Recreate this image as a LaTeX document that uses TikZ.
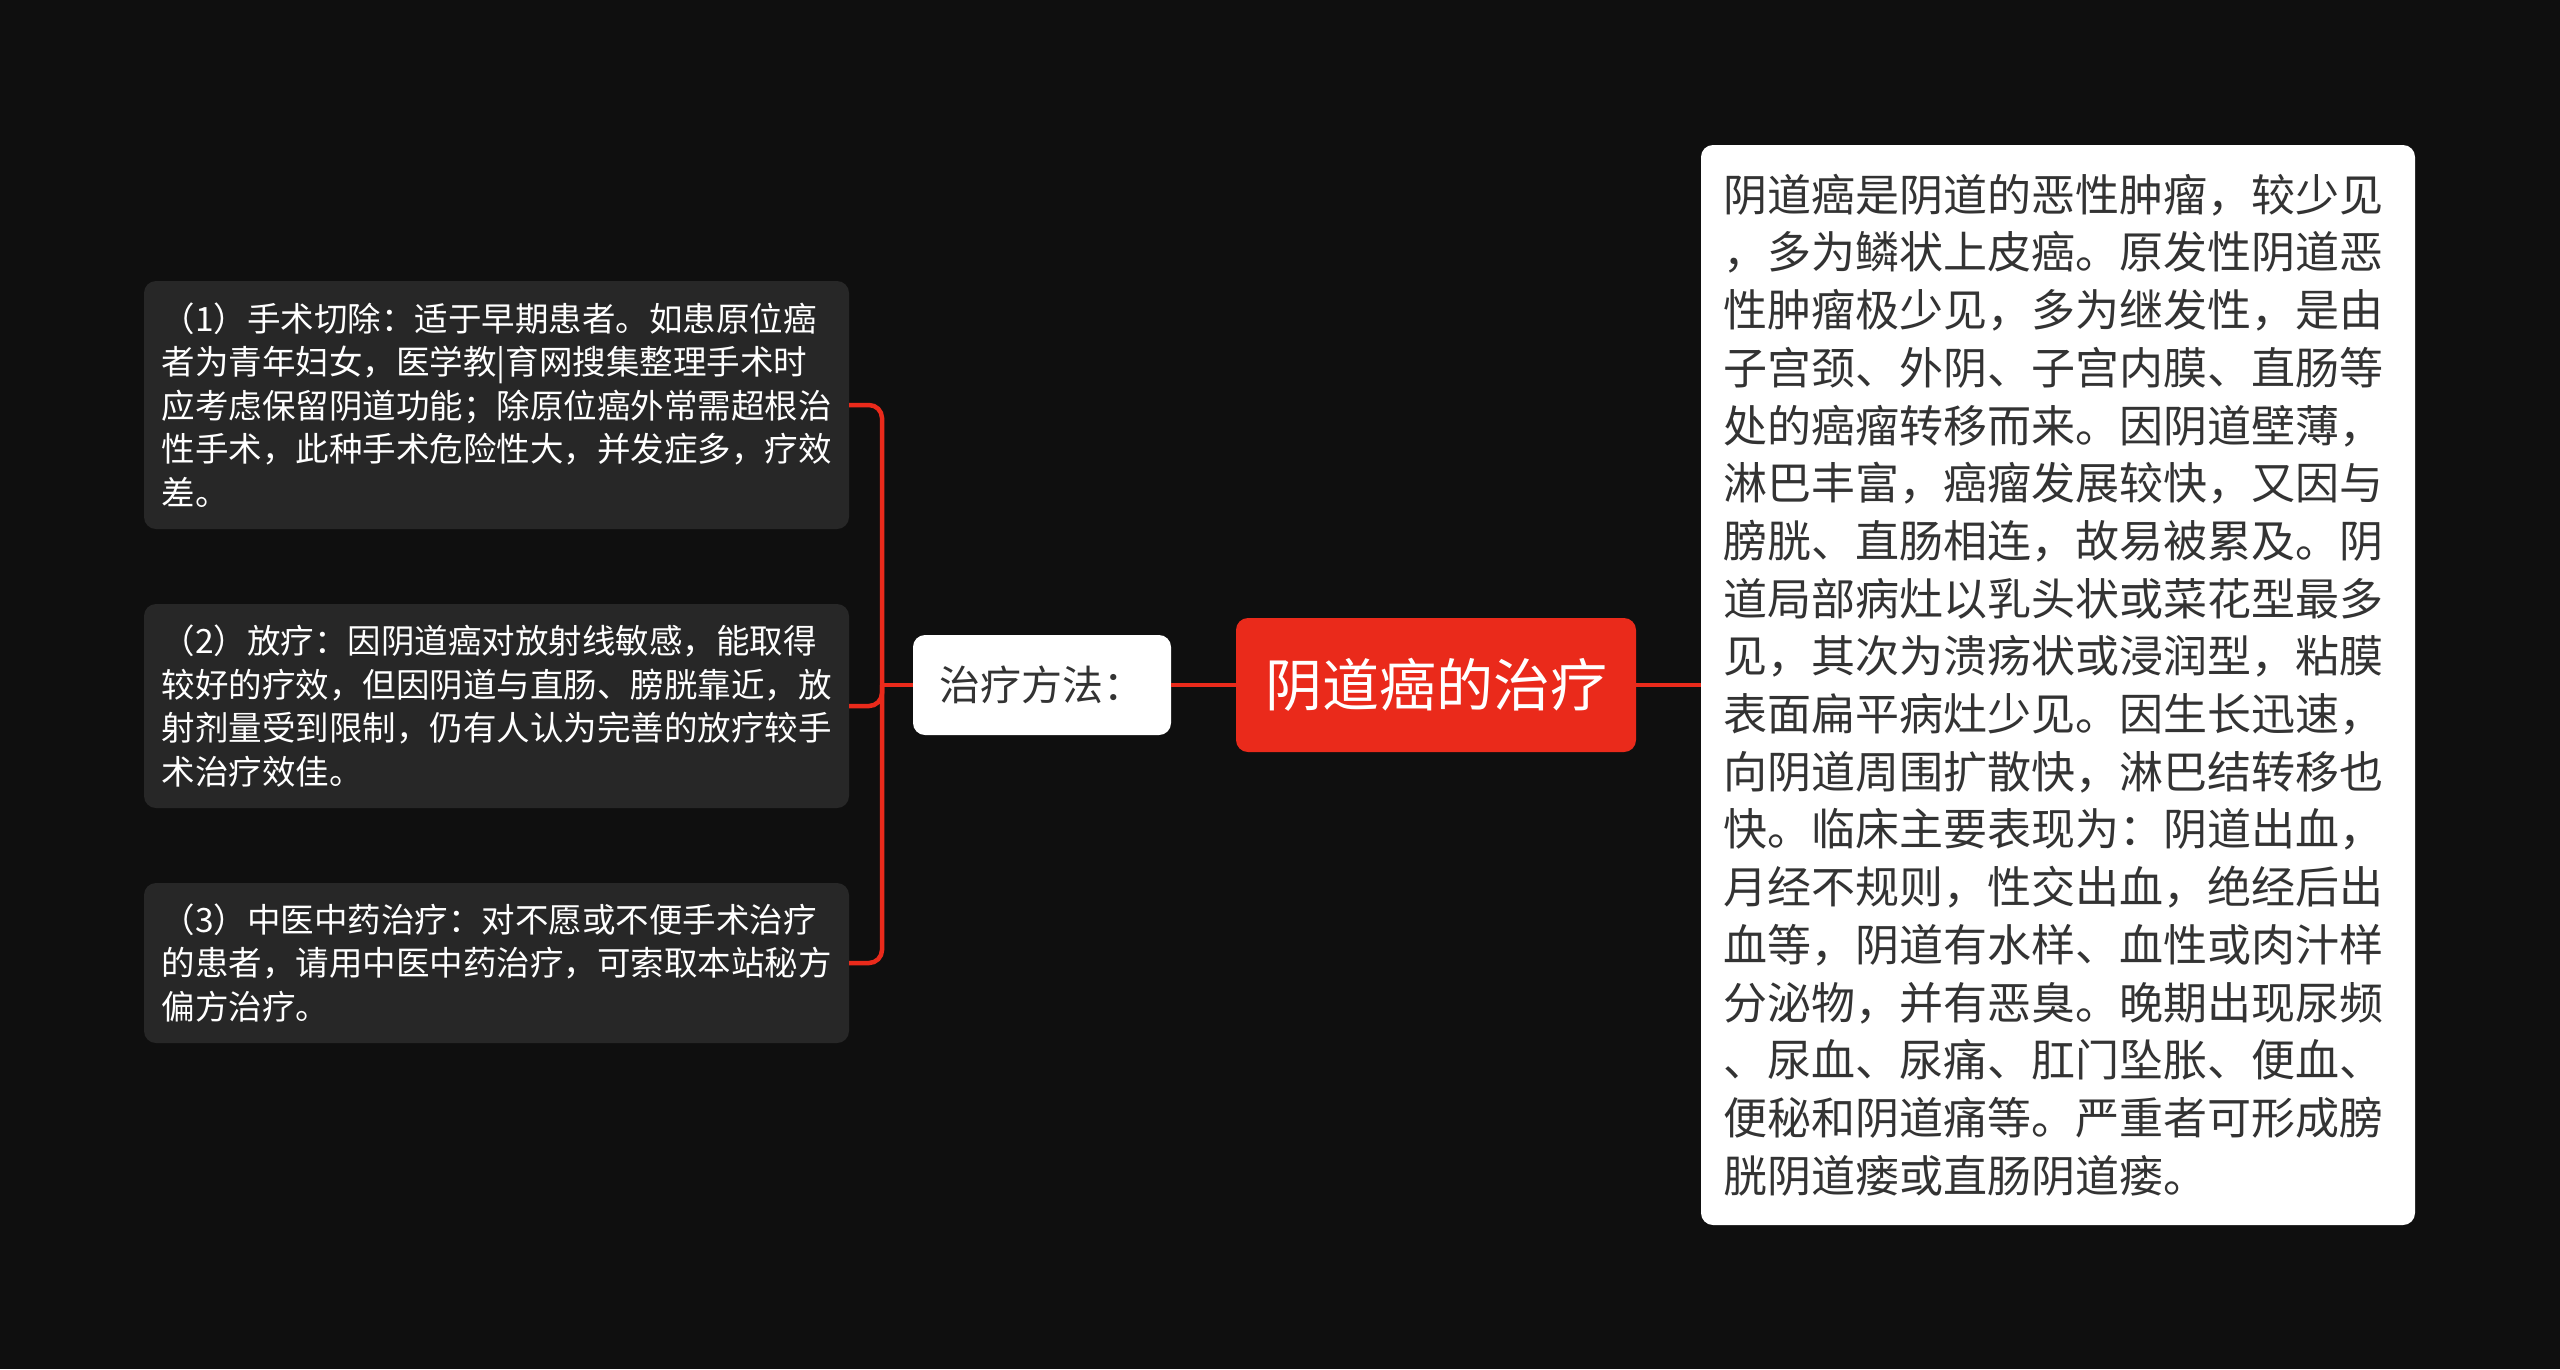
\documentclass[tikz,border=0pt]{standalone}
\usepackage{fontspec}
\newfontfamily\cjk{Noto Sans CJK SC}
\definecolor{bgc}{HTML}{0F0F0F}
\definecolor{leafgray}{HTML}{272727}
\definecolor{mainred}{HTML}{EA2A1B}
\definecolor{darktext}{HTML}{333333}
\tikzset{
  leafbox/.style={fill=leafgray, rounded corners=12pt, text=white,
    font=\cjk\fontsize{33.5}{43.5}\selectfont, text width=670pt, align=left,
    inner xsep=17.5pt, inner ysep=0pt},
  descbox/.style={fill=white, rounded corners=12pt, text=darktext,
    font=\cjk\fontsize{44}{57.7}\selectfont, text width=670pt, align=left,
    inner xsep=22pt, inner ysep=0pt, minimum width=714pt, minimum height=1080pt},
  rootbox/.style={fill=mainred, rounded corners=12pt, text=white,
    font=\cjk\fontsize{57}{68}\selectfont, minimum width=400pt, minimum height=134pt, inner sep=0pt},
  midbox/.style={fill=white, rounded corners=12pt, text=darktext,
    font=\cjk\fontsize{41}{50}\selectfont, minimum width=258pt, minimum height=100pt, inner sep=0pt},
  conn/.style={draw=mainred, line width=4.5pt}
}
\begin{document}
\begin{tikzpicture}[x=1pt,y=-1pt]
\fill[bgc] (0,0) rectangle (2560,1369);
\useasboundingbox (0,0) rectangle (2560,1369);

\node[rootbox] (root) at (1436,685) {阴道癌的治疗};
\node[midbox] (tm) at (1042,685) {治疗方法：};
\node[descbox] (desc) at (2058,685) {阴道癌是阴道的恶性肿瘤，较少见\\，多为鳞状上皮癌。原发性阴道恶\\性肿瘤极少见，多为继发性，是由\\子宫颈、外阴、子宫内膜、直肠等\\处的癌瘤转移而来。因阴道壁薄，\\淋巴丰富，癌瘤发展较快，又因与\\膀胱、直肠相连，故易被累及。阴\\道局部病灶以乳头状或菜花型最多\\见，其次为溃疡状或浸润型，粘膜\\表面扁平病灶少见。因生长迅速，\\向阴道周围扩散快，淋巴结转移也\\快。临床主要表现为：阴道出血，\\月经不规则，性交出血，绝经后出\\血等，阴道有水样、血性或肉汁样\\分泌物，并有恶臭。晚期出现尿频\\、尿血、尿痛、肛门坠胀、便血、\\便秘和阴道痛等。严重者可形成膀\\胱阴道瘘或直肠阴道瘘。};

\node[leafbox, minimum height=248pt] (b1) at (496.5,405) {（1）手术切除：适于早期患者。如患原位癌\\者为青年妇女，医学教|育网搜集整理手术时\\应考虑保留阴道功能；除原位癌外常需超根治\\性手术，此种手术危险性大，并发症多，疗效\\差。};
\node[leafbox, minimum height=204pt] (b2) at (496.5,706) {（2）放疗：因阴道癌对放射线敏感，能取得\\较好的疗效，但因阴道与直肠、膀胱靠近，放\\射剂量受到限制，仍有人认为完善的放疗较手\\术治疗效佳。};
\node[leafbox, minimum height=160pt] (b3) at (496.5,963) {（3）中医中药治疗：对不愿或不便手术治疗\\的患者，请用中医中药治疗，可索取本站秘方\\偏方治疗。};

\coordinate (j) at (882,685);
\draw[conn] (root.east) -- (desc.west);
\draw[conn] (root.west) -- (tm.east);
\draw[conn] (tm.west) -- (j);
\draw[conn, rounded corners=13pt] (j) |- (b1.east);
\draw[conn, rounded corners=13pt] (j) |- (b2.east);
\draw[conn, rounded corners=13pt] (j) |- (b3.east);
\end{tikzpicture}
\end{document}
